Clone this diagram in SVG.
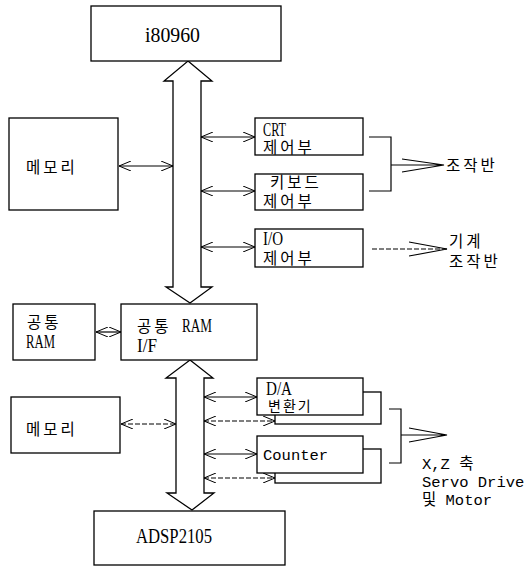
<svg xmlns="http://www.w3.org/2000/svg" width="528" height="566" viewBox="0 0 528 566">
<defs>
<marker id="ah" viewBox="0 0 12 10" refX="12" refY="5" markerWidth="12" markerHeight="10" markerUnits="userSpaceOnUse" orient="auto-start-reverse">
<path d="M0,0 L12,5 L0,10" fill="none" stroke="#000" stroke-width="1"/>
</marker>
</defs>
<style>
.box{fill:#fff;stroke:#000;stroke-width:1.3}
.bus{fill:#fff;stroke:#000;stroke-width:1.3;stroke-linejoin:miter}
.ln{fill:none;stroke:#000;stroke-width:1.2}
.dl{fill:none;stroke:#000;stroke-width:1.2;stroke-dasharray:5 2}
.arr{fill:none;stroke:#000;stroke-width:1.2;marker-start:url(#ah);marker-end:url(#ah)}
.darr{fill:none;stroke:#000;stroke-width:1.2;stroke-dasharray:5 2;marker-start:url(#ah);marker-end:url(#ah)}
text{font-family:"Liberation Serif","Noto Sans CJK KR",serif;font-size:19px;fill:#000}
.big{font-size:20px}
.k{font-size:15.5px;letter-spacing:3px}
.m{font-family:"Liberation Mono","Noto Sans CJK KR",monospace;font-size:15.5px}
</style>

<g id="connectors">
<polygon class="bus" points="188,61 212,81 201,81 201,287 212,287 190,303 166,287 173,287 173,81 164,81"/>
<polygon class="bus" points="190,360 213,378 204,378 204,493 214,493 192,510 167,493 176,493 176,378 166,378"/>
<line class="arr" x1="119" y1="166" x2="173" y2="166"/>
<line class="arr" x1="201" y1="137" x2="255" y2="137"/>
<line class="arr" x1="201" y1="191" x2="255" y2="191"/>
<line class="arr" x1="201" y1="247" x2="255" y2="247"/>
<line class="arr" x1="96" y1="332" x2="121" y2="332"/>
<path class="ln" d="M369,137 H391 V191 H369 M391,165 H444 M402,159 L444,165 L402,172"/>
<path class="dl" d="M372,249 H447"/>
<path class="ln" d="M409,242 L447,249 L409,256"/>
<line class="darr" x1="121" y1="424" x2="176" y2="424"/>
<line class="arr" x1="204" y1="397" x2="257" y2="397"/>
<line class="darr" x1="204" y1="421" x2="275" y2="421"/>
<line class="arr" x1="204" y1="454" x2="257" y2="454"/>
<line class="darr" x1="204" y1="478" x2="275" y2="478"/>
<path class="ln" d="M389,409 H401 V463 H389 M401,435 H447 M409,428 L447,435 L409,442"/>
</g>

<g id="n_i80960">
<rect class="box" x="91" y="6" width="190" height="55"/>
<text class="big" x="145" y="42" textLength="55" lengthAdjust="spacingAndGlyphs">i80960</text>
</g>

<g id="n_mem1">
<rect class="box" x="9" y="118" width="109" height="92"/>
<text class="k" x="26" y="173">메모리</text>
</g>

<g id="n_crt">
<rect class="box" x="255" y="118" width="108" height="37"/>
<text x="263" y="136" textLength="23" lengthAdjust="spacingAndGlyphs">CRT</text>
<text class="k" x="263" y="153">제어부</text>
</g>

<g id="n_kbd">
<rect class="box" x="255" y="174" width="108" height="36"/>
<text class="k" x="270" y="188">키보드</text>
<text class="k" x="263" y="207">제어부</text>
</g>

<g id="n_io">
<rect class="box" x="255" y="229" width="108" height="38"/>
<text x="263" y="245" textLength="20" lengthAdjust="spacingAndGlyphs">I/O</text>
<text class="k" x="263" y="264">제어부</text>
</g>

<g id="n_panel">
<text class="k" x="446" y="171">조작반</text>
</g>

<g id="n_mpanel">
<text class="k" x="449" y="247">기계</text>
<text class="k" x="449" y="267">조작반</text>
</g>

<g id="n_sram">
<rect class="box" x="13" y="304" width="82" height="56"/>
<text class="k" x="27" y="328">공통</text>
<text x="26" y="348" textLength="29" lengthAdjust="spacingAndGlyphs">RAM</text>
</g>

<g id="n_sramif">
<rect class="box" x="121" y="304" width="136" height="56"/>
<text class="k" x="137" y="332">공통</text>
<text x="182" y="332" textLength="30" lengthAdjust="spacingAndGlyphs">RAM</text>
<text x="137" y="352" textLength="20" lengthAdjust="spacingAndGlyphs">I/F</text>
</g>

<g id="n_mem2">
<rect class="box" x="11" y="397" width="109" height="56"/>
<text class="k" x="26" y="435">메모리</text>
</g>

<g id="n_da">
<rect class="box" x="275" y="392" width="106" height="32"/>
<rect class="box" x="257" y="378" width="106" height="37"/>
<text x="266" y="395" textLength="26" lengthAdjust="spacingAndGlyphs">D/A</text>
<text class="k" x="268" y="411" style="font-size:14px;letter-spacing:2px">변환기</text>
</g>

<g id="n_counter">
<rect class="box" x="275" y="449" width="106" height="34"/>
<rect class="box" x="257" y="436" width="106" height="37"/>
<text class="m" x="263" y="460">Counter</text>
</g>

<g id="n_servo">
<text class="m" x="422" y="469">X,Z 축</text>
<text class="m" x="422" y="487">Servo Drive</text>
<text class="m" x="422" y="505">및 Motor</text>
</g>

<g id="n_adsp">
<rect class="box" x="94" y="511" width="191" height="54"/>
<text class="big" x="136" y="543" textLength="76" lengthAdjust="spacingAndGlyphs">ADSP2105</text>
</g>
</svg>
